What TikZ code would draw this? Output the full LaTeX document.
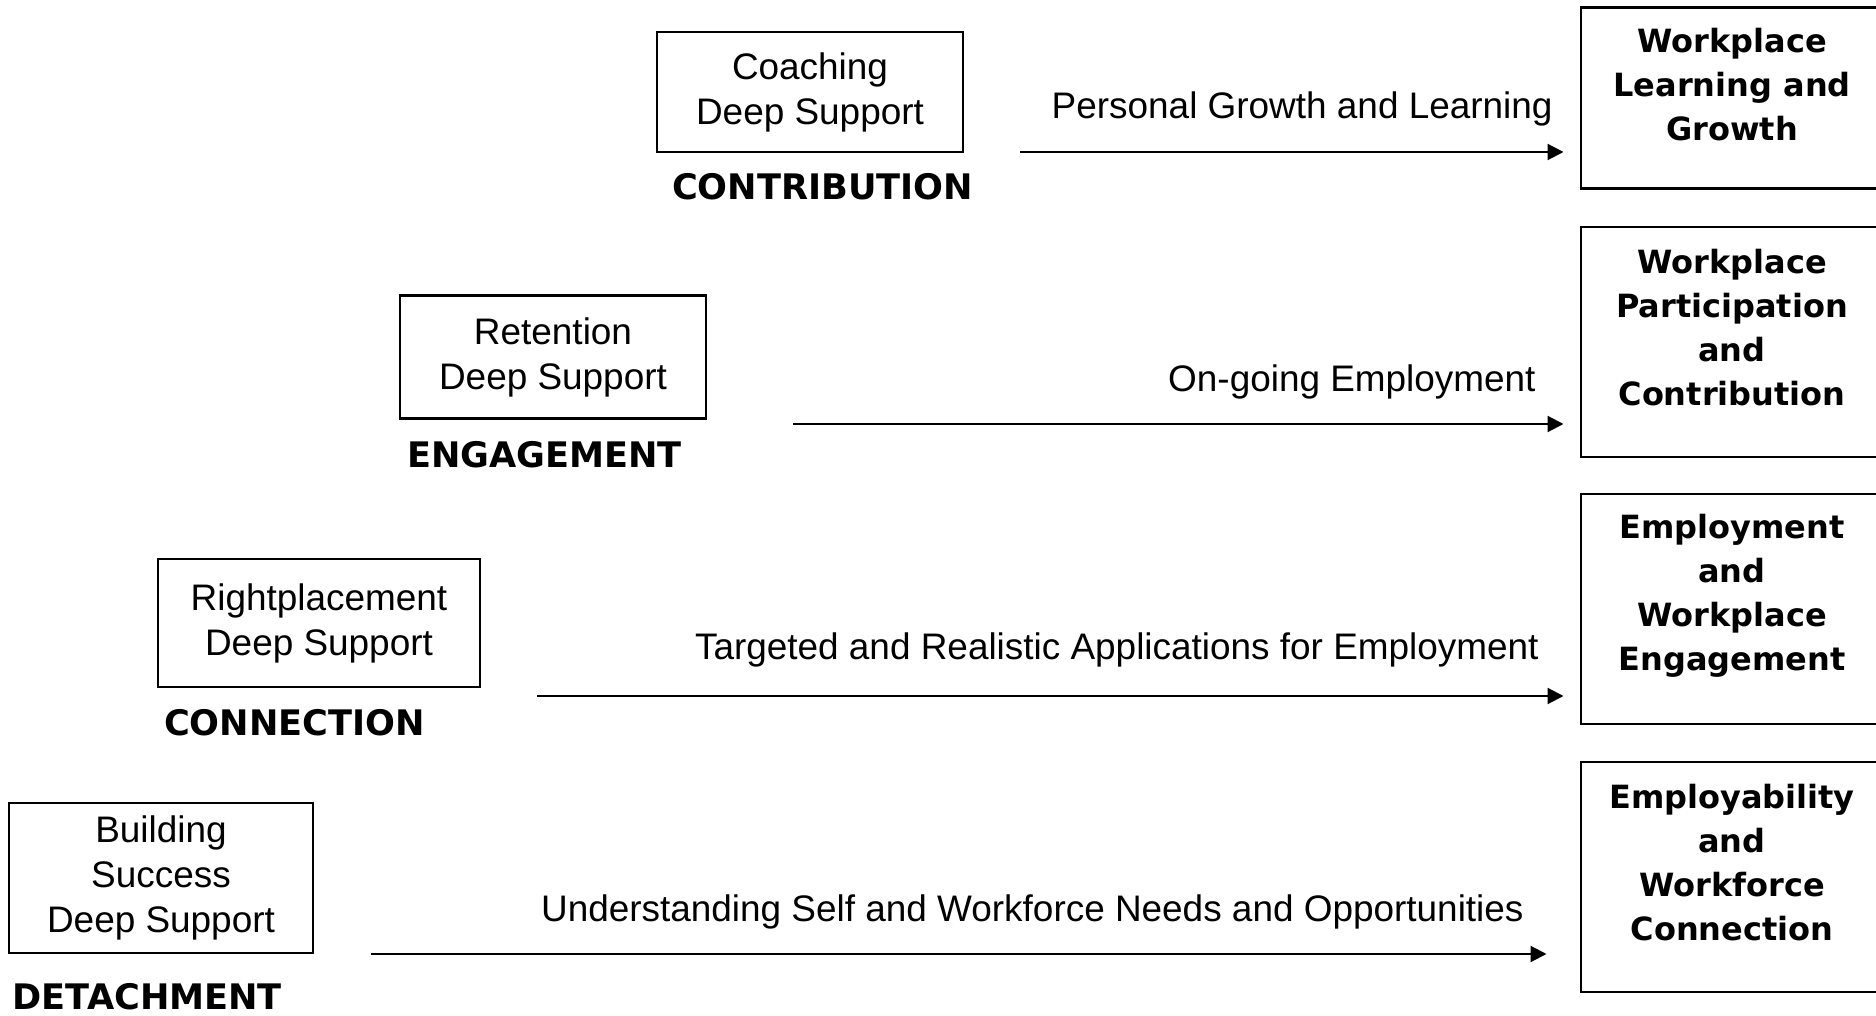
\documentclass[tikz,border=0pt]{standalone}
\usepackage{fontspec}
\setmainfont{Liberation Sans}
\newfontfamily\comicfont{DejaVu Sans}
\usetikzlibrary{positioning,arrows.meta}
\tikzset{support/.style={draw,line width=0.6pt,align=center,inner sep=0pt,
  font=\fontsize{10.5}{12.8}\selectfont}}
\tikzset{stage/.style={inner sep=0pt,font=\comicfont\bfseries\fontsize{10}{12}\selectfont}}
\tikzset{goal/.style={draw,line width=0.8pt,minimum width=3.02cm,inner sep=0pt}}
\tikzset{goaltext/.style={align=center,inner sep=0pt,
  font=\comicfont\bfseries\fontsize{9.1}{12.5}\selectfont}}
\tikzset{flow/.style={-{Triangle[length=0.16cm,width=0.16cm]},line width=0.6pt}}
\tikzset{flowlabel/.style={anchor=east,font=\fontsize{10.5}{12.8}\selectfont}}

\begin{document}
\begin{tikzpicture}[x=0.01cm,y=-0.01cm]
\useasboundingbox (0,0) rectangle (1876,1016);

% support boxes, one per stage
\node[support,minimum width=3.05cm,minimum height=1.20cm] (coach) at (810,92) {Coaching\\Deep Support};
\node[support,minimum width=3.05cm,minimum height=1.23cm] (retain) at (553,357) {Retention\\Deep Support};
\node[support,minimum width=3.21cm,minimum height=1.28cm] (rightpl) at (319,623) {Rightplacement\\Deep Support};
\node[support,minimum width=3.04cm,minimum height=1.50cm] (build) at (161,878) {Building\\Success\\Deep Support};

\node[stage,below right=0.20cm and 0.15cm of coach.south west] (contrib) {CONTRIBUTION};
\node[stage,below right=0.21cm and 0.07cm of retain.south west] (engage) {ENGAGEMENT};
\node[stage,below right=0.21cm and 0.06cm of rightpl.south west] (connect) {CONNECTION};
\node[stage,below right=0.29cm and 0.04cm of build.south west] (detach) {DETACHMENT};

% outcome boxes (run off the right edge)
\node[goal,minimum height=1.81cm] (g1) at (1732,98) {};
\node[goal,minimum height=2.30cm] (g2) at (1732,342) {};
\node[goal,minimum height=2.30cm] (g3) at (1732,609) {};
\node[goal,minimum height=2.30cm] (g4) at (1732,877) {};

\node[goaltext] at ([yshift=0.13cm]g1.center) {Workplace\\Learning and\\Growth};
\node[goaltext] at ([yshift=0.14cm]g2.center) {Workplace\\Participation\\and\\Contribution};
\node[goaltext] at ([yshift=0.13cm]g3.center) {Employment\\and\\Workplace\\Engagement};
\node[goaltext] at ([yshift=0.14cm]g4.center) {Employability\\and\\Workforce\\Connection};

% arrows
\coordinate (s1) at (1020,152);
\coordinate (s2) at (793,424);
\coordinate (s3) at (537,696);
\coordinate (s4) at (371,954);

\foreach \s/\g/\gap in {s1/g1/0.16cm,s2/g2/0.16cm,s3/g3/0.16cm,s4/g4/0.33cm}{
  \draw[flow,shorten >=\gap] (\s) -- (\s -| \g.west);
}

\node[flowlabel] (lab1) at (1565,109) {Personal Growth and Learning};
\node[flowlabel] (lab2) at (1548,382) {On-going Employment};
\node[flowlabel] (lab3) at (1551,650) {Targeted and Realistic Applications for Employment};
\node[flowlabel] (lab4) at (1536,912) {Understanding Self and Workforce Needs and Opportunities};

\end{tikzpicture}
\end{document}
